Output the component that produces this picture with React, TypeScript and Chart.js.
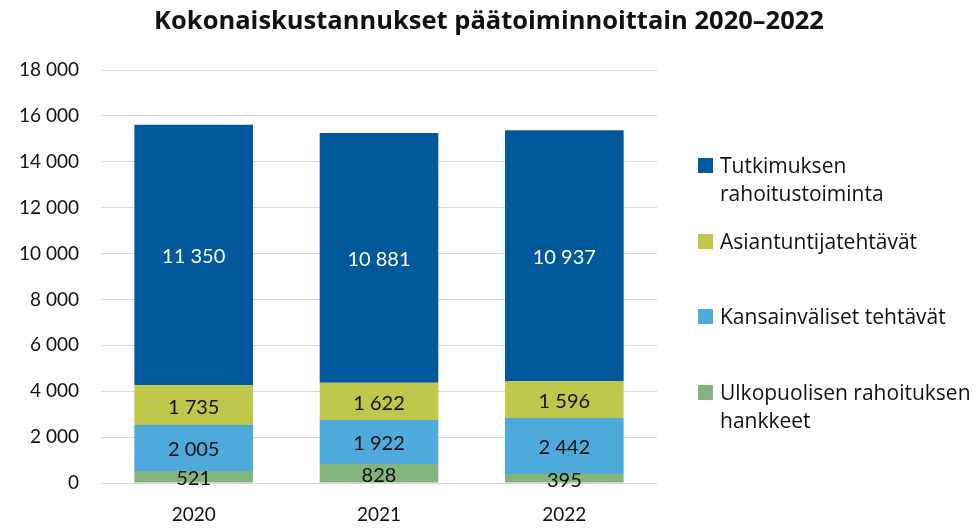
import React, { useEffect, useRef } from "react";
import { Chart, registerables } from "chart.js";

Chart.register(...registerables);

const categories = ["2020", "2021", "2022"];
const seriesNames = [
  "Ulkopuolisen rahoituksen hankkeet",
  "Kansainväliset tehtävät",
  "Asiantuntijatehtävät",
  "Tutkimuksen rahoitustoiminta",
];
const ulkopuolisen = [521, 828, 395];
const kansainvaliset = [2005, 1922, 2442];
const asiantuntija = [1735, 1622, 1596];
const tutkimus = [11350, 10881, 10937];
const colors = ["#82b47c", "#4faadc", "#bfc84a", "#01589b"];
const labelColors = ["#111", "#111", "#111", "#fff"];
const yTicks = [0, 2000, 4000, 6000, 8000, 10000, 12000, 14000, 16000, 18000];

const FONT = "Lato, 'Noto Sans', sans-serif";
const FONT2 = "'Open Sans', 'Noto Sans', sans-serif";

const fmt = (v: number) => String(v).replace(/\B(?=(\d{3})+(?!\d))/g, " ");

const legendItems = [
  { name: "Tutkimuksen\nrahoitustoiminta", color: colors[3], top: 151 },
  { name: "Asiantuntijatehtävät", color: colors[2], top: 227 },
  { name: "Kansainväliset tehtävät", color: colors[1], top: 302 },
  { name: "Ulkopuolisen rahoituksen\nhankkeet", color: colors[0], top: 378 },
];

const labelPlugin = {
  id: "barLabels",
  afterDatasetsDraw(chart: any) {
    const ctx = chart.ctx;
    ctx.save();
    ctx.font = `20px ${FONT}`;
    ctx.textAlign = "center";
    ctx.textBaseline = "middle";
    chart.data.datasets.forEach((ds: any, i: number) => {
      const meta = chart.getDatasetMeta(i);
      meta.data.forEach((bar: any, j: number) => {
        const { x, y, base } = bar.getProps(["x", "y", "base"], true);
        ctx.fillStyle = labelColors[i];
        ctx.fillText(fmt(ds.data[j]), x, (y + base) / 2 + 2);
      });
    });
    ctx.restore();
  },
};

export default function App() {
  const ref = useRef<HTMLCanvasElement>(null);
  useEffect(() => {
    const seriesData = [ulkopuolisen, kansainvaliset, asiantuntija, tutkimus];
    const chart = new Chart(ref.current!, {
      type: "bar",
      data: {
        labels: categories,
        datasets: seriesData.map((d, i) => ({
          label: seriesNames[i],
          data: d,
          backgroundColor: colors[i],
          borderWidth: 0,
          barPercentage: 0.64,
          categoryPercentage: 1,
        })),
      },
      options: {
        animation: false,
        responsive: false,
        maintainAspectRatio: false,
        layout: { padding: { left: 0, right: 321, top: 70, bottom: 0 } },
        plugins: {
          legend: { display: false },
          tooltip: { enabled: false },
          title: { display: false },
        },
        scales: {
          x: {
            stacked: true,
            grid: { display: false, drawTicks: false },
            border: { display: false },
            ticks: { color: "#111", font: { family: FONT, size: 19 }, padding: 20 },
            afterFit: (s: any) => { s.height = 45; },
          },
          y: {
            stacked: true,
            min: 0,
            max: 18000,
            afterBuildTicks: (s: any) => { s.ticks = yTicks.map((v) => ({ value: v })); },
            grid: { color: "#d9d9d9", lineWidth: 1, drawTicks: false },
            border: { display: false },
            ticks: {
              color: "#111",
              font: { family: FONT, size: 19 },
              padding: 22,
              callback: (v: any) => fmt(Number(v)),
            },
            afterFit: (s: any) => { s.width = 101; },
          },
        },
      },
      plugins: [labelPlugin],
    });
    return () => chart.destroy();
  }, []);

  return (
    <div style={{ position: "fixed", left: 0, top: 0, width: 978, height: 528, background: "#fff" }}>
      <canvas ref={ref} width={978} height={528} style={{ display: "block" }} />
      <div
        style={{
          position: "absolute",
          left: 0,
          top: 1,
          width: 978,
          textAlign: "center",
          fontFamily: FONT2,
          fontWeight: "bold",
          fontSize: 25.5,
          lineHeight: "36px",
          color: "#111",
        }}
      >
        Kokonaiskustannukset päätoiminnoittain 2020–2022
      </div>
      {legendItems.map((it) => (
        <div
          key={it.name}
          style={{
            position: "absolute",
            left: 720,
            top: it.top,
            fontFamily: FONT2,
            fontSize: 21,
            lineHeight: "28px",
            color: "#111",
            whiteSpace: "pre",
          }}
        >
          <span
            style={{
              position: "absolute",
              left: -22,
              top: 7,
              width: 15,
              height: 15,
              background: it.color,
            }}
          />
          {it.name}
        </div>
      ))}
    </div>
  );
}
